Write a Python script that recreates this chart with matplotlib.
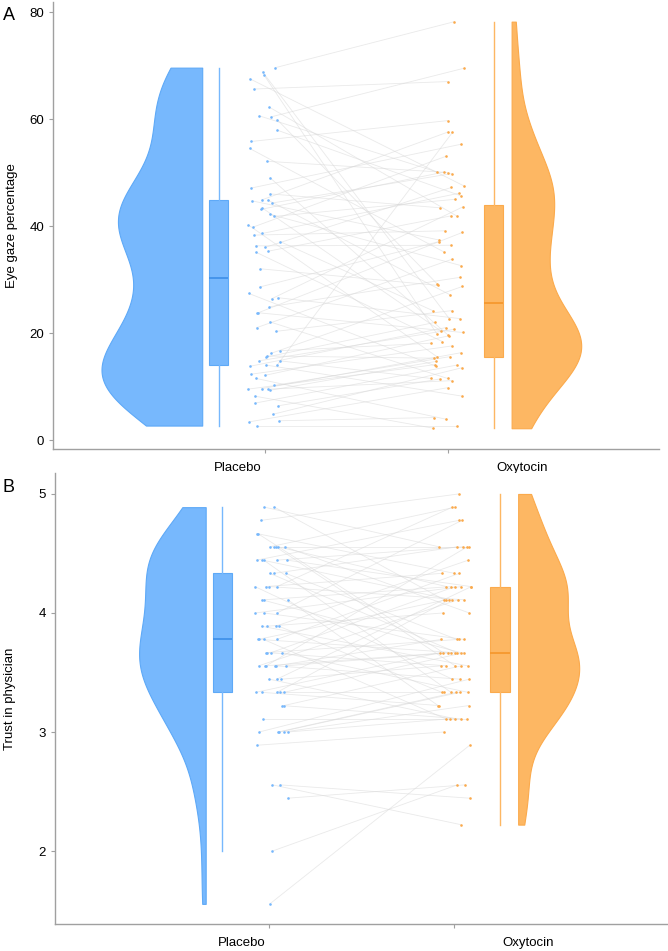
import numpy as np
import matplotlib
matplotlib.use("Agg")
import matplotlib.pyplot as plt

plt.rcParams["font.family"] = ["Liberation Sans", "DejaVu Sans"]

# ── data ────────────────────────────────────────────────────────────────────
groups = ["Placebo", "Oxytocin"]

# A: eye gaze percentage (one value per participant)
gaze_placebo = [69.6, 68.8, 68.3, 67.5, 65.6, 62.2, 60.6, 60.4, 59.9, 57.9,
                55.8, 54.5, 52.1, 49.0, 47.1, 46.0, 44.7, 44.9, 44.8, 44.3,
                43.4, 43.1, 42.2, 41.8, 40.2, 39.8, 38.3, 38.6, 37.1, 36.3,
                36.0, 35.1, 35.3, 32.0, 28.6, 27.4, 26.4, 26.6, 24.9, 23.8,
                23.7, 22.1, 21.0, 20.3, 16.7, 16.2, 15.7, 15.5, 14.8, 14.8,
                13.8, 14.0, 14.0, 12.3, 12.1, 11.5, 10.2, 9.5, 9.6, 9.5,
                9.3, 8.2, 6.9, 6.4, 4.8, 3.6, 3.4, 2.7]
gaze_placebo_jit = [0.055, -0.015, -0.009, -0.084, -0.062, 0.022, -0.034, 0.031, 0.064, 0.066,
                    -0.078, -0.086, 0.007, 0.026, -0.077, 0.026, -0.073, -0.018, 0.016, 0.037,
                    -0.018, -0.026, 0.023, 0.049, -0.093, -0.067, -0.062, -0.018, 0.080, -0.053,
                    -0.002, -0.051, 0.016, -0.027, -0.031, -0.091, 0.034, 0.069, 0.022, -0.042,
                    -0.045, 0.023, -0.048, 0.056, 0.080, 0.031, 0.009, 0.005, -0.034, 0.080,
                    -0.082, 0.005, 0.064, -0.077, 0.000, -0.049, 0.049, -0.097, -0.020, 0.016,
                    0.026, -0.058, -0.056, 0.071, 0.040, 0.075, -0.087, -0.048]
gaze_oxytocin = [78.2, 69.5, 67.0, 59.7, 57.6, 57.5, 55.3, 53.0, 50.1, 50.1,
                 50.0, 49.8, 47.5, 47.2, 46.1, 45.6, 45.0, 43.6, 43.4, 41.9,
                 41.8, 39.1, 38.8, 37.4, 37.1, 36.4, 35.1, 33.8, 32.6, 30.4,
                 29.2, 28.9, 28.7, 27.1, 24.2, 24.2, 22.0, 22.7, 22.7, 21.0,
                 20.3, 20.7, 20.1, 19.9, 19.7, 19.5, 18.1, 18.4, 17.6, 16.3,
                 15.6, 15.6, 15.3, 14.7, 14.1, 13.8, 14.0, 13.5, 11.5, 11.4,
                 11.5, 11.1, 9.8, 8.2, 4.2, 3.9, 2.7, 2.2]
gaze_oxytocin_jit = [0.033, 0.086, -0.004, -0.004, 0.000, 0.022, 0.071, -0.016, -0.062, -0.022,
                     -0.004, 0.018, 0.084, 0.015, 0.055, 0.071, 0.038, 0.080, -0.045, 0.015,
                     0.049, -0.020, 0.076, -0.053, -0.049, 0.013, -0.022, 0.020, 0.069, 0.062,
                     -0.062, -0.058, 0.076, 0.011, 0.022, -0.087, -0.071, 0.004, 0.062, -0.016,
                     -0.038, 0.031, 0.078, -0.064, -0.005, 0.005, -0.093, -0.033, 0.022, 0.066,
                     -0.064, 0.011, -0.078, -0.067, -0.071, -0.069, 0.045, 0.073, -0.093, -0.048,
                     -0.004, 0.020, 0.000, 0.075, -0.078, -0.015, 0.049, -0.082]
# oxytocin index of each placebo participant
gaze_pairs = [0, 37, 43, 12, 2, 20, 8, 1, 30, 15, 3, 26, 10, 44, 6, 18, 23, 4, 33, 11,
              40, 9, 28, 16, 50, 7, 21, 14, 35, 25, 13, 47, 19, 31, 24, 55, 17, 38, 29, 42,
              22, 60, 27, 34, 46, 32, 52, 36, 41, 58, 39, 63, 5, 48, 45, 65, 51, 54, 49, 61,
              53, 67, 56, 59, 57, 64, 62, 66]

# B: trust in physician
trust_placebo = [4.889, 4.889, 4.778, 4.667, 4.667,
                 4.556, 4.556, 4.556, 4.556, 4.556,
                 4.444, 4.444, 4.444, 4.444, 4.444,
                 4.333, 4.333, 4.333, 4.222, 4.222, 4.222, 4.222,
                 4.111, 4.111, 4.111, 4.0, 4.0, 4.0,
                 3.889, 3.889, 3.889, 3.889, 3.778, 3.778, 3.778, 3.778,
                 3.667, 3.667, 3.667, 3.667,
                 3.556, 3.556, 3.556, 3.556, 3.556, 3.556,
                 3.444, 3.444, 3.444, 3.333, 3.333, 3.333, 3.333, 3.333,
                 3.222, 3.222, 3.111, 3.0, 3.0, 3.0, 3.0, 3.0,
                 2.889, 2.556, 2.556, 2.444, 2.0, 1.556]
trust_placebo_jit = [-0.027, 0.027, -0.047, -0.068, -0.063,
                     0.002, 0.027, 0.034, 0.047, 0.083,
                     -0.070, -0.038, -0.031, 0.041, 0.094,
                     0.002, 0.025, 0.088, -0.079, -0.020, -0.002, 0.041,
                     -0.041, -0.027, 0.099, -0.076, -0.029, 0.041,
                     -0.043, -0.011, 0.034, 0.050, -0.061, -0.056, -0.032, 0.040,
                     -0.018, -0.011, 0.009, 0.070,
                     -0.059, -0.023, -0.018, 0.031, 0.036, 0.088,
                     -0.002, 0.040, 0.065, -0.074, -0.038, 0.040, 0.059, 0.077,
                     0.070, 0.077, -0.036, -0.056, 0.047, 0.054, 0.079, 0.099,
                     -0.066, 0.016, 0.056, 0.099, 0.016, 0.002]
trust_oxytocin = [5.0, 4.889, 4.889, 4.778, 4.778,
                  4.556, 4.556, 4.556, 4.556, 4.556, 4.444,
                  4.333, 4.333, 4.333,
                  4.222, 4.222, 4.222, 4.222, 4.222, 4.222,
                  4.111, 4.111, 4.111, 4.111, 4.111, 4.111, 4.0, 4.0,
                  3.778, 3.778, 3.778, 3.778,
                  3.667, 3.667, 3.667, 3.667, 3.667, 3.667, 3.667, 3.667,
                  3.556, 3.556, 3.556, 3.556, 3.556,
                  3.444, 3.444, 3.444,
                  3.333, 3.333, 3.333, 3.333, 3.333, 3.333,
                  3.222, 3.222, 3.222, 3.111, 3.111, 3.111, 3.111, 3.111,
                  3.0, 2.889, 2.556, 2.556, 2.444, 2.222]
trust_oxytocin_jit = [0.023, -0.011, 0.005, 0.025, 0.041,
                      -0.083, 0.016, 0.070, 0.077, 0.047, 0.076,
                      -0.067, 0.000, 0.027,
                      -0.043, -0.018, 0.004, 0.088, 0.092, 0.038,
                      -0.056, -0.043, -0.013, 0.020, 0.052, -0.027, -0.061, 0.081,
                      -0.072, 0.013, 0.023, 0.050,
                      -0.076, -0.061, -0.034, 0.002, 0.013, 0.054, -0.016, 0.034,
                      -0.043, 0.004, 0.038, 0.072, -0.070,
                      -0.011, 0.029, 0.081,
                      -0.067, -0.058, -0.018, 0.029, 0.074, 0.007,
                      -0.088, -0.081, 0.077, -0.047, -0.025, 0.005, 0.068, 0.038,
                      -0.058, 0.083, 0.016, 0.059, 0.083, 0.034]
trust_pairs = [5, 20, 0, 12, 33, 2, 8, 41, 14, 27, 3, 22, 50, 9, 17, 36, 6, 29, 45, 11,
               24, 1, 39, 15, 54, 19, 31, 4, 43, 26, 10, 48, 21, 35, 57, 13, 30, 40, 16, 52,
               23, 34, 7, 46, 28, 38, 59, 18, 44, 32, 55, 25, 49, 37, 61, 42, 60, 47, 53, 51,
               56, 58, 62, 67, 66, 65, 64, 63]

BLUE, BLUE_EDGE, BLUE_MED = "#77B8FD", "#5EA9F7", "#3D8FE8"
ORANGE, ORANGE_EDGE, ORANGE_MED = "#FDB763", "#FBAA4C", "#F5962A"
SPINE = "#A0A0A0"


def kde(vals, grid, adjust=1.0):
    vals = np.asarray(vals)
    q75, q25 = np.percentile(vals, [75, 25])
    bw = 0.9 * min(vals.std(ddof=1), (q75 - q25) / 1.34) * len(vals) ** -0.2 * adjust
    z = (grid[:, None] - vals[None, :]) / bw
    return np.exp(-0.5 * z ** 2).sum(axis=1) / (len(vals) * bw * np.sqrt(2 * np.pi))


def raincloud(ax, pla, pla_jit, oxy, oxy_jit, pairs, widths, adjust):
    pla = np.asarray(pla); oxy = np.asarray(oxy)
    # paired lines
    for i, j in enumerate(pairs):
        ax.plot([1 + pla_jit[i], 2 + oxy_jit[j]], [pla[i], oxy[j]],
                color="#D8D8D8", lw=0.6, alpha=0.55, zorder=1)
    ax.scatter(1 + np.asarray(pla_jit), pla, s=3.5, color=BLUE, zorder=3, lw=0)
    ax.scatter(2 + np.asarray(oxy_jit), oxy, s=3.5, color=ORANGE_EDGE, zorder=3, lw=0)

    # half violins
    for vals, edge, side, w, adj, fc, ec in [(pla, 0.655, -1, widths[0], adjust[0], BLUE, BLUE_EDGE),
                                             (oxy, 2.345, 1, widths[1], adjust[1], ORANGE, ORANGE_EDGE)]:
        grid = np.linspace(vals.min(), vals.max(), 300)
        d = kde(vals, grid, adj)
        d = d / d.max() * w
        ax.fill_betweenx(grid, edge, edge + side * d, facecolor=fc, edgecolor=ec,
                         lw=0.8, zorder=2)

    # boxes
    for vals, pos, fc, ec, mc in [(pla, 0.745, BLUE, BLUE_EDGE, BLUE_MED),
                                  (oxy, 2.247, ORANGE, ORANGE_EDGE, ORANGE_MED)]:
        ax.boxplot([vals], positions=[pos], widths=0.105, patch_artist=True,
                   showfliers=False, showcaps=False, whis=1.5, manage_ticks=False,
                   boxprops=dict(facecolor=fc, edgecolor=ec, lw=0.8),
                   medianprops=dict(color=mc, lw=1.2),
                   whiskerprops=dict(color=fc, lw=1.0), zorder=2)

    ax.set_xlim(-0.16, 3.15)
    ax.set_xticks([1, 2])
    ax.set_xticklabels(["", ""])
    for s in ["top", "right"]:
        ax.spines[s].set_visible(False)
    for s in ["left", "bottom"]:
        ax.spines[s].set_color(SPINE)
        ax.spines[s].set_linewidth(1.0)
    ax.tick_params(colors=SPINE, labelcolor="black", labelsize=9.5, length=3, width=0.8)
    for x, lab in zip([0.848, 2.40], groups):
        ax.annotate(lab, xy=(x, 0), xycoords=("data", "axes fraction"),
                    xytext=(0, -13.5), textcoords="offset points",
                    ha="center", va="center", fontsize=9.5)


fig = plt.figure(figsize=(6.68, 9.51), dpi=100)
ax1 = fig.add_axes([53 / 668, 1 - 449 / 951, 606 / 668, 447 / 951])
ax2 = fig.add_axes([55 / 668, 1 - 924 / 951, 612 / 668, 451 / 951])

raincloud(ax1, gaze_placebo, gaze_placebo_jit, gaze_oxytocin, gaze_oxytocin_jit,
          gaze_pairs, widths=(0.55, 0.38), adjust=(0.9, 0.8))
ax1.set_ylim(-1.68, 81.87)
ax1.set_yticks([0, 20, 40, 60, 80])
ax1.set_ylabel("Eye gaze percentage", fontsize=9.5, labelpad=8)

raincloud(ax2, trust_placebo, trust_placebo_jit, trust_oxytocin, trust_oxytocin_jit,
          trust_pairs, widths=(0.36, 0.33), adjust=(1.0, 1.0))
ax2.set_ylim(1.387, 5.176)
ax2.set_yticks([2, 3, 4, 5])
ax2.set_ylabel("Trust in physician", fontsize=9.5, labelpad=16)

fig.text(3 / 668, 1 - 16 / 951, "A", fontsize=13, va="center", ha="left")
fig.text(3 / 668, 1 - 488 / 951, "B", fontsize=13, va="center", ha="left")

fig.savefig("out.png", dpi=100)
